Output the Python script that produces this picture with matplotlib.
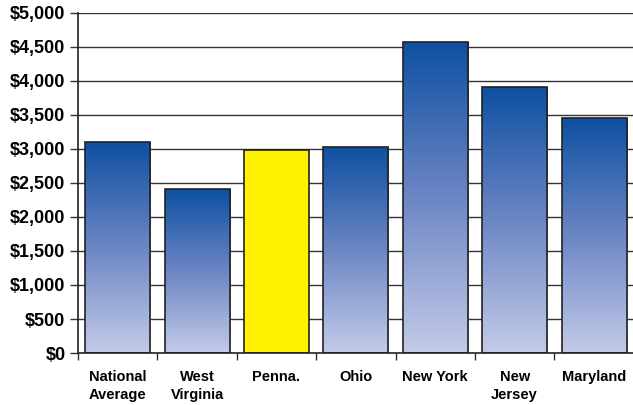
import matplotlib
matplotlib.use("Agg")
import matplotlib.pyplot as plt
import numpy as np
from matplotlib.colors import LinearSegmentedColormap
from matplotlib.patches import Rectangle
from matplotlib.ticker import FuncFormatter

categories = ["National\nAverage", "West\nVirginia", "Penna.", "Ohio", "New York", "New\nJersey", "Maryland"]
values = [3100, 2410, 2980, 3030, 4580, 3910, 3450]
highlight = "Penna."

plt.rcParams['font.family'] = ['Liberation Sans', 'DejaVu Sans']
plt.rcParams['font.weight'] = 'bold'

fig = plt.figure(figsize=(6.33, 4.05), dpi=100)
ax = fig.add_axes([78/633, 1-353/405, (633-78)/633 + 0.01, 340/405])

cmap = LinearSegmentedColormap.from_list("g", ["#C3CBE8", "#6C86C4", "#0E50A2"])
grad = np.linspace(0, 1, 256).reshape(-1, 1)
x = np.arange(len(categories))
w = 0.82
for yv in range(500, 5001, 500):
    ax.axhline(yv, color="#333333", lw=1.0, zorder=1)
for xi, v, c in zip(x, values, categories):
    if c == highlight:
        r = Rectangle((xi - w/2, 0), w, v, facecolor="#FFF200", edgecolor="#222222", lw=1.2, zorder=3)
        ax.add_patch(r)
    else:
        r = Rectangle((xi - w/2, 0), w, v, facecolor="none", edgecolor="#222222", lw=1.2, zorder=4)
        ax.add_patch(r)
        im = ax.imshow(grad, cmap=cmap, origin="lower", aspect="auto",
                       extent=(xi - w/2, xi + w/2, 0, v), zorder=3)
        im.set_clip_path(r)
ax.set_aspect("auto")
ax.set_xlim(-0.5, len(categories) - 0.5 + 0.07)
ax.set_ylim(0, 5000)

ax.set_yticks(range(0, 5001, 500))
ax.yaxis.set_major_formatter(FuncFormatter(lambda v, p: f"${int(v):,}"))
ax.set_xticks(x)
ax.set_xticklabels(categories, fontsize=10.5, fontweight="bold", va="top", linespacing=1.4)
ax.set_xticks(np.arange(len(categories) + 1) - 0.5, minor=True)
ax.tick_params(axis="x", which="major", length=0, pad=12)
ax.tick_params(axis="x", which="minor", length=5, width=1, color="#333333")
ax.tick_params(axis="y", length=6, width=1, color="#333333", labelsize=13, pad=3)
for lab in ax.get_yticklabels():
    lab.set_fontweight("bold")
for s in ["top", "right"]:
    ax.spines[s].set_visible(False)
for s in ["left", "bottom"]:
    ax.spines[s].set_color("#222222")
    ax.spines[s].set_linewidth(1.2)
    ax.spines[s].set_zorder(5)

fig.savefig("out.png", dpi=100)
